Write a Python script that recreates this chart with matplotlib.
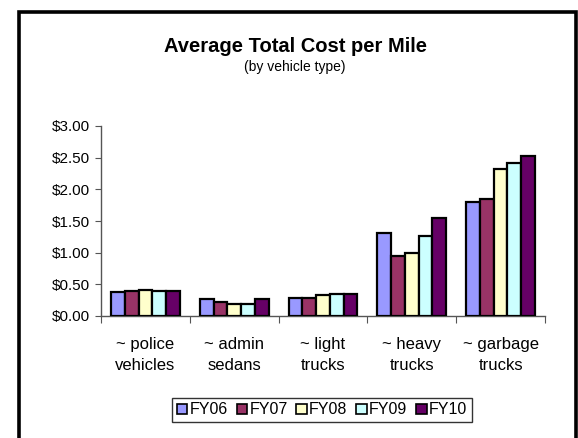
import matplotlib
matplotlib.use("Agg")
import matplotlib.pyplot as plt
import numpy as np
from matplotlib.patches import Rectangle
from matplotlib.ticker import FuncFormatter, MultipleLocator

categories = ["~ police\nvehicles", "~ admin\nsedans", "~ light\ntrucks",
              "~ heavy\ntrucks", "~ garbage\ntrucks"]
series_names = ["FY06", "FY07", "FY08", "FY09", "FY10"]
fy06 = [0.38, 0.27, 0.28, 1.31, 1.80]
fy07 = [0.40, 0.22, 0.28, 0.95, 1.84]
fy08 = [0.41, 0.19, 0.33, 0.99, 2.32]
fy09 = [0.39, 0.19, 0.35, 1.26, 2.42]
fy10 = [0.40, 0.27, 0.34, 1.54, 2.53]
colors = ["#9999FF", "#993366", "#FFFFCC", "#CCFFFF", "#660066"]

plt.rcParams["font.family"] = ["Liberation Sans", "DejaVu Sans"]

W, H = 578, 438
fig = plt.figure(figsize=(W / 100, H / 100), dpi=100)
fig.patch.set_facecolor("white")

# Outer chart frame (open at the bottom edge)
fig.patches.append(Rectangle((18.5 / W, -0.05), (575.5 - 18.5) / W, (H - 11.5) / H + 0.05,
                             transform=fig.transFigure, fill=False,
                             edgecolor="black", linewidth=2.6))

ax = fig.add_axes([101 / W, (H - 316) / H, (545 - 101) / W, (316 - 126) / H])

values = [fy06, fy07, fy08, fy09, fy10]
n = len(series_names)
bw = 0.155
x = np.arange(len(categories))
for i, (name, vals, c) in enumerate(zip(series_names, values, colors)):
    ax.bar(x + (i - (n - 1) / 2) * bw, vals, width=bw, color=c,
           edgecolor="black", linewidth=1.6, label=name, zorder=3)

ax.set_xlim(-0.5, len(categories) - 0.5)
ax.set_ylim(0, 3.0)
ax.yaxis.set_major_locator(MultipleLocator(0.5))
ax.yaxis.set_major_formatter(FuncFormatter(lambda v, p: f"${v:.2f}"))

ax.set_xticks(np.arange(len(categories) + 1) - 0.5)
ax.set_xticklabels([])
ax.set_xticks(x, minor=True)
ax.set_xticklabels(categories, minor=True, fontsize=12, linespacing=1.5)
ax.tick_params(axis="x", which="minor", length=0, pad=15)
ax.tick_params(axis="x", which="major", length=5, direction="out", color="#555555")
ax.tick_params(axis="y", length=4, direction="out", labelsize=11, color="#555555", pad=4)

for s in ["top", "right"]:
    ax.spines[s].set_visible(False)
for s in ["left", "bottom"]:
    ax.spines[s].set_color("#555555")
    ax.spines[s].set_linewidth(1.0)

fig.text(296 / W, (H - 46) / H, "Average Total Cost per Mile", ha="center", va="center",
         fontsize=14.5, fontweight="bold")
fig.text(295 / W, (H - 67) / H, "(by vehicle type)", ha="center", va="center", fontsize=10)

leg = fig.legend(loc="center", bbox_to_anchor=(322 / W, (H - 410) / H), ncol=5,
                 fontsize=11.5, frameon=True, fancybox=False, edgecolor="black",
                 handlelength=0.65, handleheight=0.65, handletextpad=0.15,
                 columnspacing=0.55, borderpad=0.3, borderaxespad=0)
leg.get_frame().set_linewidth(1.0)
for h in leg.legend_handles:
    h.set_linewidth(1.2)

fig.savefig("out.png", dpi=100)
